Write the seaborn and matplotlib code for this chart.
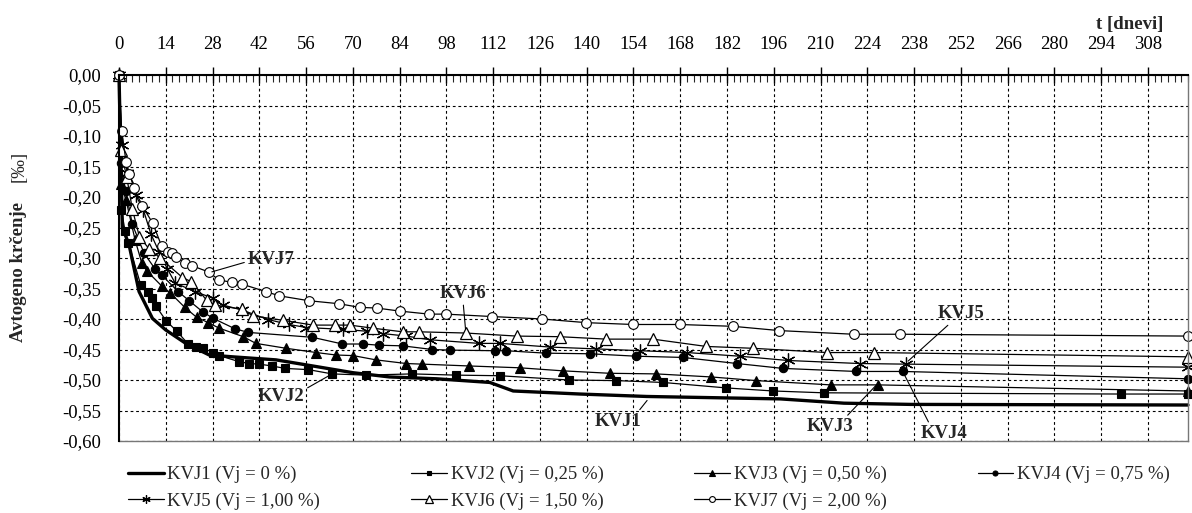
import matplotlib
matplotlib.use("Agg")
from matplotlib import pyplot as plt
from matplotlib.ticker import MultipleLocator, FuncFormatter
import numpy as np
import seaborn as sns

# series (t in days, shrinkage in permille)
t1 = [0, 1, 3, 6, 10, 14, 20, 27, 34, 47, 58, 70, 81, 95, 111, 118, 138, 158, 198, 217, 237, 320]
v1 = [0, -0.25, -0.278, -0.355, -0.399, -0.418, -0.440, -0.459, -0.462, -0.467, -0.477, -0.488,
      -0.495, -0.498, -0.504, -0.518, -0.523, -0.527, -0.531, -0.538, -0.540, -0.541]

t2 = [0, 0.7, 1.8, 2.8, 6.5, 8.8, 9.8, 11.1, 14.1, 17.3, 20.7, 23, 25.2, 28.2, 30, 36, 39, 42,
      45.8, 49.7, 56.7, 63.8, 73.8, 87.8, 100.8, 114, 134.7, 148.9, 162.8, 181.8, 195.8, 210.9,
      299.9, 320]
v2 = [0, -0.221, -0.255, -0.275, -0.344, -0.355, -0.366, -0.379, -0.403, -0.420, -0.441, -0.446,
      -0.448, -0.455, -0.460, -0.470, -0.473, -0.474, -0.477, -0.481, -0.483, -0.490, -0.492,
      -0.490, -0.492, -0.493, -0.500, -0.501, -0.504, -0.513, -0.518, -0.521, -0.523, -0.523]

t3 = [0, 0.5, 2.1, 4.8, 6.8, 8.3, 12.8, 15.3, 19.7, 23.2, 26.7, 30, 37.2, 41, 50, 59.1, 64.9,
      70.1, 76.9, 86, 90.8, 104.8, 120, 132.9, 146.9, 160.8, 177.3, 190.8, 213, 227.1, 320]
v3 = [0, -0.178, -0.205, -0.270, -0.308, -0.321, -0.346, -0.357, -0.381, -0.397, -0.406, -0.415,
      -0.429, -0.440, -0.448, -0.455, -0.459, -0.460, -0.467, -0.473, -0.474, -0.477, -0.480,
      -0.485, -0.489, -0.490, -0.495, -0.501, -0.508, -0.508, -0.518]

t4 = [0, 0.5, 2, 4, 7.5, 10.8, 12.8, 17.7, 21, 25, 28.2, 34.7, 38.7, 57.9, 66.9, 73.1, 77.9,
      84.9, 93.8, 99, 112.5, 115.8, 127.7, 140.9, 154.9, 168.8, 185, 198.7, 220.7, 234.6, 320]
v4 = [0, -0.145, -0.19, -0.245, -0.292, -0.318, -0.328, -0.355, -0.370, -0.388, -0.399, -0.416,
      -0.422, -0.430, -0.441, -0.441, -0.443, -0.444, -0.450, -0.451, -0.452, -0.452, -0.456,
      -0.457, -0.461, -0.463, -0.473, -0.481, -0.486, -0.486, -0.498]

t5 = [0, 0.8, 2.5, 5, 7.3, 9.5, 12, 14.5, 16.8, 22.7, 28.2, 31, 36.7, 44.7, 50.9, 56.1, 67.1,
      74.1, 79.1, 86, 93, 107.8, 114.2, 129, 142.9, 156.1, 170, 185.8, 200.2, 221.7, 235.6, 320]
v5 = [0, -0.115, -0.16, -0.197, -0.221, -0.26, -0.29, -0.318, -0.341, -0.355, -0.366, -0.377,
      -0.385, -0.401, -0.409, -0.414, -0.417, -0.420, -0.424, -0.428, -0.434, -0.440, -0.440,
      -0.446, -0.449, -0.452, -0.455, -0.461, -0.468, -0.473, -0.474, -0.479]

t6 = [0, 0.5, 2.3, 4, 6.1, 9, 12.3, 19, 21.7, 26.2, 28.7, 36.7, 40.2, 49, 58.1, 64.6, 69.1,
      75.9, 84.9, 89.8, 103.8, 119, 131.9, 145.9, 159.8, 175.8, 189.7, 212, 226, 320]
v6 = [0, -0.123, -0.167, -0.22, -0.265, -0.285, -0.300, -0.332, -0.339, -0.369, -0.377, -0.384,
      -0.395, -0.402, -0.410, -0.410, -0.410, -0.415, -0.421, -0.421, -0.423, -0.428, -0.429,
      -0.433, -0.433, -0.445, -0.448, -0.455, -0.455, -0.462]

t7 = [0, 0.8, 2.1, 3.1, 4.5, 7, 10.1, 12.8, 14.7, 15.8, 17, 19.7, 22, 26.9, 29.9, 33.9, 36.9,
      43.9, 48, 56.8, 65.9, 72.1, 77.1, 84, 92.8, 97.8, 111.8, 126.7, 139.9, 153.9, 167.8, 183.8,
      197.7, 219.9, 233.9, 320]
v7 = [0, -0.091, -0.142, -0.162, -0.185, -0.215, -0.243, -0.281, -0.290, -0.292, -0.298, -0.308,
      -0.313, -0.323, -0.336, -0.340, -0.343, -0.355, -0.362, -0.370, -0.375, -0.381, -0.382,
      -0.387, -0.392, -0.392, -0.396, -0.400, -0.406, -0.409, -0.409, -0.412, -0.419, -0.425,
      -0.425, -0.428]

labels = ["KVJ1 (Vj = 0 %)", "KVJ2 (Vj = 0,25 %)", "KVJ3 (Vj = 0,50 %)", "KVJ4 (Vj = 0,75 %)",
          "KVJ5 (Vj = 1,00 %)", "KVJ6 (Vj = 1,50 %)", "KVJ7 (Vj = 2,00 %)"]

# callouts: name, text position (t, value), point it points at (t, value), line start on text box
ann_names = ["KVJ7", "KVJ2", "KVJ6", "KVJ1", "KVJ3", "KVJ4", "KVJ5"]
ann_text = [(45.5, -0.303), (48.5, -0.527), (103, -0.358), (149.5, -0.568), (213, -0.577),
            (247, -0.588), (252, -0.391)]
ann_point = [(27, -0.324), (63.8, -0.490), (103.8, -0.421), (158.6, -0.530), (227.1, -0.506),
             (234.6, -0.486), (235.6, -0.472)]
ann_rel = [(0, 0.4), (1, 0.9), (0.5, 0), (0.9, 1), (0.8, 1), (0.2, 1), (0.3, 0)]

sns.set_theme(style="white")
plt.rcParams['font.family'] = ['Liberation Serif', 'DejaVu Serif']

fig = plt.figure(figsize=(11.92, 5.13), dpi=100)
ax = fig.add_axes([119/1192, 1-441/513, (1188-119)/1192, (441-75)/513])

series = [(t1, v1), (t2, v2), (t3, v3), (t4, v4), (t5, v5), (t6, v6), (t7, v7)]
styles = [
    dict(marker=None, lw=2.4),
    dict(marker='s', ms=5.6, mfc='black', lw=0.9),
    dict(marker='^', ms=6.8, mfc='black', lw=0.9),
    dict(marker='o', ms=6.0, mfc='black', lw=0.9),
    dict(marker=(6, 2, 0), ms=10, mfc='none', mew=0.9, lw=0.9),
    dict(marker='^', ms=8.5, mfc='white', mew=0.9, lw=0.9),
    dict(marker='o', ms=7.0, mfc='white', mew=0.8, lw=0.9),
]
handles = []
for (t, v), st, lab in zip(series, styles, labels):
    kw = dict(color='black', linewidth=st['lw'])
    if st['marker'] is not None:
        kw.update(marker=st['marker'], markersize=st['ms'], markerfacecolor=st['mfc'],
                  markeredgecolor='black', markeredgewidth=st.get('mew', 0.8))
    sns.lineplot(x=t, y=v, ax=ax, label=lab, sort=False, estimator=None, legend=False,
                 clip_on=False, **kw)
    handles.append(ax.lines[-1])

for name, xt, xp, rel in zip(ann_names, ann_text, ann_point, ann_rel):
    ax.annotate(name, xy=xp, xytext=xt, ha='center', va='center', fontsize=13.5,
                fontweight='bold',
                arrowprops=dict(arrowstyle='-', lw=0.8, color='black', relpos=rel,
                                shrinkA=0, shrinkB=2))

ax.set_xlim(0, 320)
ax.set_ylim(-0.6, 0)
ax.xaxis.tick_top()
ax.xaxis.set_major_locator(MultipleLocator(14))
ax.xaxis.set_minor_locator(MultipleLocator(2))
ax.yaxis.set_major_locator(MultipleLocator(0.05))
ax.xaxis.set_major_formatter(FuncFormatter(lambda x, p: "%d" % round(x) if x <= 308 else ""))
ax.yaxis.set_major_formatter(FuncFormatter(lambda y, p: ("%.2f" % y).replace('.', ',').replace('-0,00', '0,00')))
ax.tick_params(axis='x', which='major', direction='inout', length=12, width=1, pad=10,
               labelsize=13.5, top=True, bottom=False, colors='black')
ax.tick_params(axis='x', which='minor', direction='in', length=5, width=0.8, top=True, bottom=False)
ax.tick_params(axis='y', which='major', direction='inout', length=14, width=1, pad=6,
               labelsize=13.5, colors='black')
ax.grid(True, which='major', linestyle=(0, (2.5, 2.5)), color='black', lw=0.8)
for s in ['top', 'left']:
    ax.spines[s].set_color('black')
    ax.spines[s].set_linewidth(1.5)
    ax.spines[s].set_zorder(3)
for s in ['right', 'bottom']:
    ax.spines[s].set_color('#777777')
    ax.spines[s].set_linewidth(1.0)
ax.set_xlabel("")
ax.set_ylabel("")

fig.text(1163/1192, 1-24/513, "t [dnevi]", ha='right', va='center', fontsize=13.5, fontweight='bold')
fig.text(19/1192, 1-272/513, "Avtogeno krčenje", rotation=90, ha='center', va='center',
         fontsize=13.5, fontweight='bold')
fig.text(19/1192, 1-166/513, "[‰]", rotation=90, ha='center', va='center', fontsize=13.5)

order = [0, 4, 1, 5, 2, 6, 3]
leg = fig.legend([handles[i] for i in order], [labels[i] for i in order],
                 loc='center left', bbox_to_anchor=(128/1192, 1-488/513), ncol=4, frameon=False,
                 fontsize=13.5, handlelength=1.9, handletextpad=0.2, columnspacing=4.85,
                 labelspacing=0.5, markerscale=0.6, borderpad=0, borderaxespad=0)

fig.savefig("out.png", dpi=100)
